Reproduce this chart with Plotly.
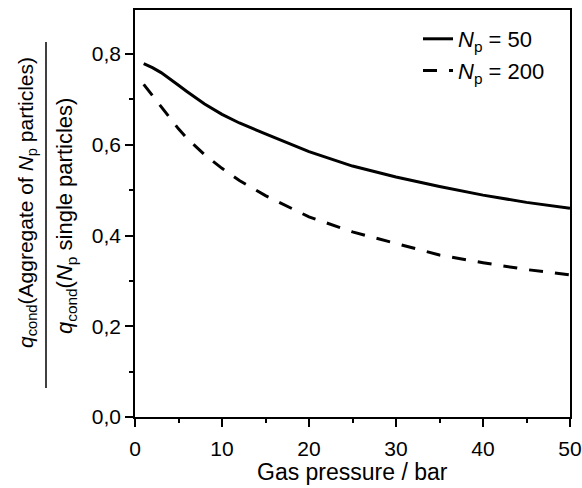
import plotly.graph_objects as go

pressure = [1, 2, 3, 4, 5, 6, 8, 10, 12, 15, 20, 25, 30, 35, 40, 45, 50]
ratio_np50 = [0.779, 0.770, 0.759, 0.744, 0.731, 0.717, 0.690, 0.667, 0.648,
              0.624, 0.585, 0.553, 0.529, 0.508, 0.489, 0.473, 0.460]
ratio_np200 = [0.733, 0.708, 0.683, 0.659, 0.635, 0.614, 0.578, 0.548, 0.521,
               0.488, 0.441, 0.408, 0.383, 0.357, 0.340, 0.325, 0.313]
x_ticks = [0, 10, 20, 30, 40, 50]
y_ticks = [0.0, 0.2, 0.4, 0.6, 0.8]

FONT = "Liberation Sans"
L, R, T, B = 135, 12, 10, 71
W, H = 582, 488
pw, ph = W - L - R, H - T - B

def px_to_paper_x(px):
    return (px - L) / pw

def px_to_paper_y(py):
    return (H - B - py) / ph

fig = go.Figure()
fig.add_trace(go.Scatter(x=pressure, y=ratio_np50, mode="lines",
                         name="<i>N</i><sub>p</sub> = 50",
                         line=dict(color="black", width=3)))
fig.add_trace(go.Scatter(x=pressure, y=ratio_np200, mode="lines",
                         name="<i>N</i><sub>p</sub> = 200",
                         line=dict(color="black", width=3, dash="14px,12px")))

axis_common = dict(showline=True, linecolor="black", linewidth=1.5, mirror=True,
                   ticks="outside", ticklen=8, tickwidth=1.5, tickcolor="black",
                   showgrid=False, zeroline=False, automargin=False,
                   tickfont=dict(family=FONT, size=21, color="black"))

fig.update_xaxes(range=[0, 50], tickvals=x_ticks, ticklabelstandoff=4,
                 minor=dict(ticks="outside", ticklen=4, tickwidth=1.5, tickcolor="black", dtick=5),
                 **axis_common)
fig.update_yaxes(range=[0, 0.897], tickvals=y_ticks, tickformat=".1f",
                 minor=dict(ticks="outside", ticklen=4, tickwidth=1.5, tickcolor="black", dtick=0.1),
                 **axis_common)

# x-axis title
fig.add_annotation(text="Gas pressure / bar", xref="paper", yref="paper",
                   x=0.5, y=px_to_paper_y(472), xanchor="center", yanchor="middle",
                   showarrow=False, font=dict(family=FONT, size=23, color="black"))

# y-axis title as a fraction
fig.add_annotation(text="<i>q</i><sub>cond</sub>(Aggregate of <i>N</i><sub>p</sub> particles)",
                   xref="paper", yref="paper", x=px_to_paper_x(27), y=px_to_paper_y(203),
                   xanchor="center", yanchor="middle", textangle=-90, showarrow=False,
                   font=dict(family=FONT, size=21, color="black"))
fig.add_annotation(text="<i>q</i><sub>cond</sub>(<i>N</i><sub>p</sub> single particles)",
                   xref="paper", yref="paper", x=px_to_paper_x(66), y=px_to_paper_y(216),
                   xanchor="center", yanchor="middle", textangle=-90, showarrow=False,
                   font=dict(family=FONT, size=22, color="black"))
fig.add_shape(type="line", xref="paper", yref="paper",
              x0=px_to_paper_x(46), x1=px_to_paper_x(46),
              y0=px_to_paper_y(42), y1=px_to_paper_y(388),
              line=dict(color="black", width=1.5))

fig.update_layout(width=W, height=H, margin=dict(l=L, r=R, t=T, b=B),
                  paper_bgcolor="white", plot_bgcolor="white",
                  separators=",.",
                  font=dict(family=FONT, size=21, color="black"),
                  legend=dict(x=px_to_paper_x(418), y=px_to_paper_y(18), xanchor="left", yanchor="top",
                              bgcolor="rgba(0,0,0,0)", font=dict(family=FONT, size=22, color="black"),
                              tracegroupgap=0))

fig.write_html("out.html", config={"displayModeBar": False},
               post_script="document.body.style.margin='0';document.body.style.padding='0';")
